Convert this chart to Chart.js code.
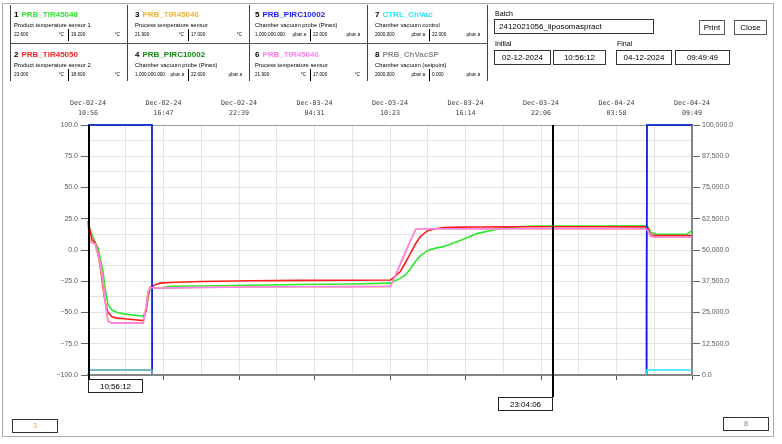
<!DOCTYPE html>
<html>
<head>
<meta charset="utf-8">
<script src="https://cdn.jsdelivr.net/npm/chart.js@4.4.1/dist/chart.umd.min.js"></script>
<style>
html,body{margin:0;padding:0;background:#fff;}
body{width:782px;height:444px;overflow:hidden;position:relative;font-family:"Liberation Sans",Arial,sans-serif;color:#000;}
#chart{position:absolute;left:0;top:0;}
.abs{position:absolute;white-space:nowrap;}
.frame{position:absolute;left:2px;top:3px;width:772px;height:434px;border:1px solid #aaa;box-sizing:border-box;}
.vl{position:absolute;width:1px;background:#333;}
.hl{position:absolute;height:1px;background:#555;}
.box{position:absolute;border:1px solid #333;box-sizing:border-box;font-size:8px;line-height:12px;text-align:center;background:#fff;white-space:nowrap;}
</style>
</head>
<body>
<canvas id="chart" width="782" height="444"></canvas>
<div class="frame"></div>
<div id="hdr"></div>
<script>
// ---------------- data ----------------
const batchName = '2412021056_liposomaspract';
const initialDate = '02-12-2024', initialTime = '10:56:12';
const finalDate = '04-12-2024', finalTime = '09:49:49';

const legendNo = [1, 2, 3, 4, 5, 6, 7, 8];
const legendTags = ['PRB_TIR45048', 'PRB_TIR45050', 'PRB_TIR45046', 'PRB_PIRC10002', 'PRB_PIRC10002', 'PRB_TIR45046', 'CTRL_ChVac', 'PRB_ChVacSP'];
const legendDesc = ['Product temperature sensor 1', 'Product temperature sensor 2', 'Process temperature sensor', 'Chamber vacuum probe (Pirani)', 'Chamber vacuum probe (Pirani)', 'Process temperature sensor', 'Chamber vacuum control', 'Chamber vacuum (setpoint)'];
const legendColors = ['#2ee82e', '#ff1f1f', '#f2b23e', '#118a11', '#1a1aff', '#ff80f0', '#22e8ff', '#8c8c8c'];
const legendUnits = ['°C', '°C', '°C', 'µbar a', 'µbar a', '°C', 'µbar a', 'µbar a'];
const cursor1Values = ['22.600', '23.000', '21.900', '1,000,000.000', '1,000,000.000', '21.900', '2000.000', '2000.000'];
const cursor2Values = ['19.200', '18.600', '17.000', '22.000', '22.000', '17.000', '22.000', '0.000'];
const cursorLabels = ['10:56:12', '23:04:06'];
const cursorStamps = [Date.UTC(2024, 11, 2, 10, 56, 12), Date.UTC(2024, 11, 3, 23, 4, 6)];

// minutes elapsed since batch start (temperature samples)
const elapsedMin = [0, 9, 19, 33, 47, 56, 70, 79, 93, 112,
  135, 182, 257, 271, 280, 289, 299, 317, 336, 383,
  523, 756, 989, 1223, 1409, 1432, 1456, 1479, 1502, 1526,
  1549, 1582, 1619, 1656, 1736, 1815, 1922, 2016, 2095, 2389,
  2599, 2608, 2622, 2646, 2669, 2790, 2804, 2813];
const tir45048 = [22.6, 17, 12, 6, 1.6, -6, -17, -30, -44, -48,
  -50, -51.5, -53, -48, -38, -31, -29.5, -30.5, -30.5, -29,
  -28.8, -28.2, -27.6, -27.2, -26.5, -24.5, -22.5, -20, -15, -9,
  -4.5, -0.3, 1.5, 2.7, 7.8, 13.3, 17.2, 18.8, 19.2, 19.2,
  19.3, 18.5, 14, 12.8, 12.5, 12.5, 14.5, 14.5];
const tir45050 = [23, 16, 8, 6, -3, -12, -30, -41, -50, -53.5,
  -54.5, -55.2, -56.5, -48, -36, -30, -29, -27.5, -26.5, -26,
  -25.2, -24.6, -24.3, -24.2, -24, -21, -17, -10, -2.7, 5,
  11, 15.5, 17, 18, 18.3, 18.4, 18.5, 18.6, 18.6, 18.6,
  18.5, 17.5, 12, 11.5, 11.5, 11.5, 11.5, 11.5];
const tir45046 = [21.9, 6.5, 6, 5, -4, -10, -25, -40, -57, -58.5,
  -58.5, -58.5, -58.5, -45, -33, -30.5, -30, -30.5, -30.5, -30.3,
  -30, -29.6, -29.4, -29.3, -29.2, -20.2, -10.7, -1.7, 7.4, 16.5,
  17, 17, 17, 17, 17, 17, 17, 17, 17, 17,
  17, 15.5, 11, 10.4, 10.4, 10.4, 10.4, 10.4];

// vacuum samples (µbar)
const vacMin = [0, 298, 299, 2600, 2602, 2604, 2813];
const pirc10002 = [1000000, 1000000, 22, 22, 27300, 1000000, 1000000];
const ctrlChVac = [2000, 2000, 22, 22, 2000, 2000, 2000];
const chVacSP = [2000, 2000, 0, 0, 0, 0, 0];

const tempTicksMin = -100, tempTicksMax = 100, tempStep = 12.5;
const vacTicksMin = 0, vacTicksMax = 100000, vacStep = 12500;

// ---------------- header ----------------
const hdr = document.getElementById('hdr');
const add = h => hdr.insertAdjacentHTML('beforeend', h);
const colLeft = [10, 127, 249, 367], colRight = [127, 249, 367, 487];
const padL = [4, 8, 6, 8], sepRel = [58, 61, 61, 62], rowTop = [5, 45];
[10, 127, 249, 367, 487].forEach(x => add(`<div class="vl" style="left:${x}px;top:5px;height:76px;background:#444"></div>`));
add(`<div class="hl" style="left:10px;top:43px;width:478px"></div>`);
legendNo.forEach((n, i) => {
  const c = Math.floor(i / 2), r = i % 2;
  const L = colLeft[c], T = rowTop[r], P = padL[c], S = L + sepRel[c];
  const small = 'font-size:4.7px;line-height:5px;';
  add(`<div class="abs" style="left:${L + P}px;top:${T + 6}px;font-size:8px;line-height:8px;font-weight:bold"><span style="margin-right:3px">${n}</span><span style="color:${legendColors[i]}">${legendTags[i]}</span></div>`);
  add(`<div class="abs" style="left:${L + P}px;top:${T + 17}px;font-size:5.8px;line-height:6px;">${legendDesc[i]}</div>`);
  add(`<div class="abs" style="left:${L + P}px;top:${T + 27}px;${small}">${cursor1Values[i]}</div>`);
  add(`<div class="abs" style="right:${782 - (S - 4)}px;top:${T + 27}px;${small}">${legendUnits[i]}</div>`);
  add(`<div class="vl" style="left:${S}px;top:${T + 24}px;height:12px;background:#000"></div>`);
  add(`<div class="abs" style="left:${S + 3}px;top:${T + 27}px;${small}">${cursor2Values[i]}</div>`);
  add(`<div class="abs" style="right:${782 - (colRight[c] - 7)}px;top:${T + 27}px;${small}">${legendUnits[i]}</div>`);
});
add(`<div class="abs" style="left:495px;top:10px;font-size:7px;line-height:7px">Batch</div>`);
add(`<div class="box" style="left:494px;top:19px;width:160px;height:15px;text-align:left;padding-left:4px;line-height:13px">${batchName}</div>`);
add(`<div class="box" style="left:699px;top:20px;width:26px;height:15px;line-height:13px;border-color:#555">Print</div>`);
add(`<div class="box" style="left:734px;top:20px;width:33px;height:15px;line-height:13px;border-color:#555">Close</div>`);
add(`<div class="abs" style="left:495px;top:40px;font-size:7px;line-height:7px">Initial</div>`);
add(`<div class="abs" style="left:617px;top:40px;font-size:7px;line-height:7px">Final</div>`);
add(`<div class="box" style="left:494px;top:50px;width:57px;height:15px;line-height:13px">${initialDate}</div>`);
add(`<div class="box" style="left:553px;top:50px;width:53px;height:15px;line-height:13px">${initialTime}</div>`);
add(`<div class="box" style="left:616px;top:50px;width:56px;height:15px;line-height:13px">${finalDate}</div>`);
add(`<div class="box" style="left:675px;top:50px;width:55px;height:15px;line-height:13px">${finalTime}</div>`);
add(`<div class="box" style="left:12px;top:419px;width:46px;height:14px;color:${legendColors[2]}">3</div>`);
add(`<div class="box" style="left:723px;top:417px;width:46px;height:14px;color:${legendColors[7]}">8</div>`);

// ---------------- chart ----------------
const START = Date.UTC(2024, 11, 2, 10, 56, 12);
const END = Date.UTC(2024, 11, 4, 9, 49, 49);
const SPAN = (END - START) / 60000;
const MON = ['Jan','Feb','Mar','Apr','May','Jun','Jul','Aug','Sep','Oct','Nov','Dec'];
const p2 = v => String(v).padStart(2, '0');
function tickLabel(v) {
  const d = new Date(START + v * 60000);
  return [`${MON[d.getUTCMonth()]}-${p2(d.getUTCDate())}-${String(d.getUTCFullYear()).slice(2)}`, `${p2(d.getUTCHours())}:${p2(d.getUTCMinutes())}`];
}
function timeTicks(scale) {
  const t = [];
  for (let i = 0; i <= 16; i++) t.push({ value: SPAN * i / 16 });
  scale.ticks = t;
}
const pts = (times, vals, cap) => times.map((t, i) => ({ x: t, y: cap === undefined ? vals[i] : Math.min(vals[i], cap) }));
const lineDs = (n, data, axis, w) => ({
  label: legendTags[n - 1], data, yAxisID: axis, borderColor: legendColors[n - 1],
  borderWidth: w, pointRadius: 0, tension: 0, order: 9 - n, clip: 3
});

// bottom axis line sits above the traces resting at zero, as in the original trend viewer
const axisOverPlugin = {
  id: 'axisOver',
  afterDatasetsDraw(chart) {
    const { ctx, chartArea } = chart;
    ctx.save();
    ctx.strokeStyle = '#858585'; ctx.lineWidth = 2;
    ctx.beginPath(); ctx.moveTo(chartArea.left, chartArea.bottom); ctx.lineTo(chartArea.right + 1, chartArea.bottom); ctx.stroke();
    ctx.restore();
  }
};

const cursorPlugin = {
  id: 'cursors',
  afterDraw(chart) {
    const { ctx, chartArea, scales } = chart;
    const ext = [4, 22];
    cursorStamps.forEach((s, i) => {
      const x = Math.round(scales.x.getPixelForValue((s - START) / 60000));
      const yb = chartArea.bottom + ext[i];
      ctx.save();
      ctx.strokeStyle = '#000'; ctx.lineWidth = 2;
      ctx.beginPath(); ctx.moveTo(x + (i === 0 ? 1 : 0), chartArea.top); ctx.lineTo(x + (i === 0 ? 1 : 0), yb); ctx.stroke();
      const bw = 55, bh = 14;
      const bx = i === 0 ? x : x - bw;
      ctx.fillStyle = '#fff'; ctx.fillRect(bx, yb, bw, bh);
      ctx.strokeStyle = '#222'; ctx.lineWidth = 1;
      ctx.strokeRect(bx + 0.5, yb + 0.5, bw - 1, bh - 1);
      ctx.fillStyle = '#000'; ctx.font = '8px "Liberation Sans", Arial, sans-serif';
      ctx.textAlign = 'center'; ctx.textBaseline = 'middle';
      ctx.fillText(cursorLabels[i], bx + bw / 2, yb + bh / 2 + 0.5);
      ctx.restore();
    });
  }
};

new Chart(document.getElementById('chart'), {
  type: 'line',
  data: {
    datasets: [
      lineDs(1, pts(elapsedMin, tir45048), 'y', 1.6),
      lineDs(2, pts(elapsedMin, tir45050), 'y', 1.6),
      lineDs(3, pts(elapsedMin, tir45046), 'y', 1.6),
      lineDs(4, pts(vacMin, pirc10002, vacTicksMax), 'y2', 1.6),
      lineDs(5, pts(vacMin, pirc10002, vacTicksMax), 'y2', 1.6),
      lineDs(6, pts(elapsedMin, tir45046), 'y', 1.6),
      lineDs(7, pts(vacMin, ctrlChVac), 'y2', 1.4),
      lineDs(8, pts(vacMin, chVacSP), 'y2', 1.2)
    ]
  },
  options: {
    responsive: false, animation: false, devicePixelRatio: 1, events: [],
    layout: { padding: 0 },
    plugins: { legend: { display: false }, tooltip: { enabled: false } },
    scales: {
      x: {
        type: 'linear', position: 'top', min: 0, max: SPAN,
        afterBuildTicks: timeTicks,
        afterFit: s => { s.height = 125; },
        ticks: {
          autoSkip: false, maxRotation: 0, padding: 7,
          callback: (v, i) => (i % 2 === 0 ? tickLabel(v) : ''),
          font: { family: '"DejaVu Sans Mono", monospace', size: 6.7, lineHeight: 1.45 }, color: '#3a3a3a'
        },
        grid: { color: '#e3e3e3', drawTicks: false },
        border: { color: '#9a9a9a', width: 1 }
      },
      x2: {
        type: 'linear', position: 'bottom', min: 0, max: SPAN,
        afterBuildTicks: timeTicks,
        afterFit: s => { s.height = 69; },
        ticks: { autoSkip: false, maxRotation: 0, callback: () => '', font: { size: 7 } },
        grid: { drawOnChartArea: false, drawTicks: true, tickLength: 5, tickColor: c => (c.index % 2 === 0 ? '#555' : 'rgba(0,0,0,0)') },
        border: { color: '#858585', width: 2 }
      },
      y: {
        type: 'linear', position: 'left', min: tempTicksMin, max: tempTicksMax,
        afterFit: s => { s.width = 88; },
        ticks: {
          stepSize: tempStep, padding: 3, color: '#5a5a5a',
          font: { family: '"Liberation Sans", Arial, sans-serif', size: 7 },
          callback: v => (v % 25 === 0 ? (v < 0 ? '\u2212' : '') + Math.abs(v).toFixed(1) : '')
        },
        grid: { color: '#e3e3e3', tickLength: 7, tickColor: c => (c.tick && c.tick.value % 25 === 0 ? '#666' : 'rgba(0,0,0,0)') },
        border: { color: '#9a9a9a', width: 1 }
      },
      y2: {
        type: 'linear', position: 'right', min: vacTicksMin, max: vacTicksMax,
        afterFit: s => { s.width = 90; },
        ticks: {
          stepSize: vacStep, padding: 2, color: '#5a5a5a',
          font: { family: '"Liberation Sans", Arial, sans-serif', size: 7 },
          callback: v => v.toLocaleString('en-US', { minimumFractionDigits: 1, maximumFractionDigits: 1 })
        },
        grid: { drawOnChartArea: false, tickLength: 8, tickColor: '#666' },
        border: { color: '#858585', width: 2 }
      }
    }
  },
  plugins: [axisOverPlugin, cursorPlugin]
});
</script>
</body>
</html>
